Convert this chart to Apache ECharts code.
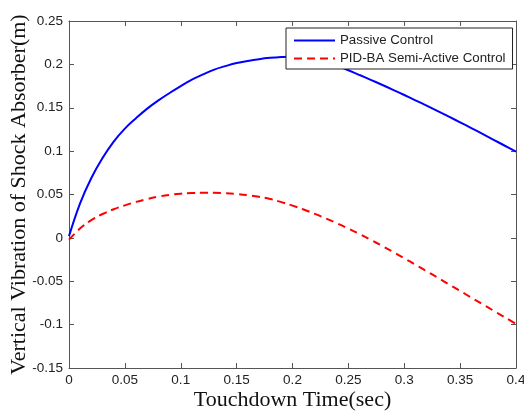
<!DOCTYPE html>
<html>
<head>
<meta charset="utf-8">
<script src="https://cdn.jsdelivr.net/npm/echarts@6/dist/echarts.min.js"></script>
<style>
  html, body { margin: 0; padding: 0; background: #fff; }
  #chart { width: 524px; height: 412px; }
</style>
</head>
<body>
<div id="chart"></div>
<script>
// Touchdown time samples (s)
const timeSec = [
  0, 0.01, 0.02, 0.03, 0.04, 0.05, 0.06, 0.07, 0.08, 0.09,
  0.10, 0.11, 0.12, 0.13, 0.14, 0.15, 0.16, 0.17, 0.18, 0.19,
  0.20, 0.21, 0.22, 0.23, 0.24, 0.25, 0.26, 0.27, 0.28, 0.29,
  0.30, 0.31, 0.32, 0.33, 0.34, 0.35, 0.36, 0.37, 0.38, 0.39, 0.40
];

// Shock absorber vertical displacement (m), passive damper
const passive = [
  0.002, 0.040, 0.069, 0.092, 0.111, 0.126, 0.138, 0.149, 0.1585, 0.167,
  0.175, 0.1825, 0.1885, 0.194, 0.198, 0.2015, 0.204, 0.206, 0.2075, 0.2085,
  0.209, 0.2083, 0.2063, 0.2031, 0.1985, 0.1932, 0.1877, 0.1822, 0.1765, 0.1707,
  0.1647, 0.1586, 0.1524, 0.1461, 0.1397, 0.1332, 0.1266, 0.1199, 0.1131, 0.1062, 0.0993
];

// Shock absorber vertical displacement (m), PID-BA semi-active control
const pidBa = [
  -0.002, 0.011, 0.0205, 0.0275, 0.033, 0.0375, 0.0415, 0.0448, 0.0475, 0.0495,
  0.0509, 0.0517, 0.052, 0.052, 0.0515, 0.0506, 0.0492, 0.0473, 0.0448, 0.0412,
  0.0372, 0.0327, 0.0277, 0.0223, 0.0167, 0.0107, 0.0044, -0.0022, -0.0091, -0.0162,
  -0.0235, -0.0309, -0.0384, -0.046, -0.0536, -0.0612, -0.0688, -0.0764, -0.084, -0.0916, -0.0992
];

const seriesNames = ['Passive Control', 'PID-BA Semi-Active Control'];
const xTitle = 'Touchdown Time(sec)';
const yTitle = 'Vertical Vibration of Shock Absorber(m)';

const toPairs = (ys) => timeSec.map((t, i) => [t, ys[i]]);

const frameColor = '#555';
const labelFont = { fontFamily: 'Liberation Sans, Arial, sans-serif', fontSize: 13.5, color: '#222' };
const legendFont = { fontFamily: 'Liberation Sans, Arial, sans-serif', fontSize: 13.3, color: '#222' };
const titleFont = { fontFamily: 'Liberation Serif, Times New Roman, serif', fontSize: 22, color: '#111' };

const baseX = {
  type: 'value', min: 0, max: 0.4, interval: 0.05,
  splitLine: { show: false },
  axisLine: { show: true, onZero: false, lineStyle: { color: frameColor, width: 1 } },
  axisTick: { show: true, inside: true, length: 5, lineStyle: { color: frameColor } }
};
const baseY = {
  type: 'value', min: -0.15, max: 0.25, interval: 0.05,
  splitLine: { show: false },
  axisLine: { show: true, onZero: false, lineStyle: { color: frameColor, width: 1 } },
  axisTick: { show: true, inside: true, length: 5, lineStyle: { color: frameColor } }
};

const chart = echarts.init(document.getElementById('chart'), null, { renderer: 'canvas' });
chart.setOption({
  animation: false,
  backgroundColor: '#fff',
  grid: { left: 69, right: 8, top: 21, bottom: 44, containLabel: false, outerBoundsMode: 'none' },
  xAxis: [
    Object.assign({}, baseX, {
      position: 'bottom',
      axisLabel: Object.assign({ margin: 5 }, labelFont),
      name: xTitle, nameLocation: 'middle', nameGap: 21, nameMoveOverlap: false,
      nameTextStyle: titleFont
    }),
    Object.assign({}, baseX, { position: 'top', axisLabel: { show: false } })
  ],
  yAxis: [
    Object.assign({}, baseY, {
      position: 'left',
      axisLabel: Object.assign({ margin: 6 }, labelFont),
      name: yTitle, nameLocation: 'middle', nameGap: 39, nameMoveOverlap: false,
      nameTextStyle: titleFont
    }),
    Object.assign({}, baseY, { position: 'right', axisLabel: { show: false } })
  ],
  legend: {
    orient: 'vertical',
    left: 286, top: 28,
    padding: [6, 7, 4, 7],
    itemWidth: 41, itemHeight: 14, itemGap: 5,
    backgroundColor: '#fff',
    borderColor: '#222', borderWidth: 1,
    itemStyle: { opacity: 0 },
    textStyle: legendFont,
    data: seriesNames
  },
  series: [
    {
      name: seriesNames[0], type: 'line', data: toPairs(passive),
      showSymbol: false, symbol: 'none', smooth: 0.4,
      lineStyle: { color: '#0000ff', width: 2 }, itemStyle: { color: '#0000ff' }
    },
    {
      name: seriesNames[1], type: 'line', data: toPairs(pidBa),
      showSymbol: false, symbol: 'none', smooth: 0.4,
      lineStyle: { color: '#ff0000', width: 2, type: [8, 5] }, itemStyle: { color: '#ff0000' }
    }
  ]
});
</script>
</body>
</html>
